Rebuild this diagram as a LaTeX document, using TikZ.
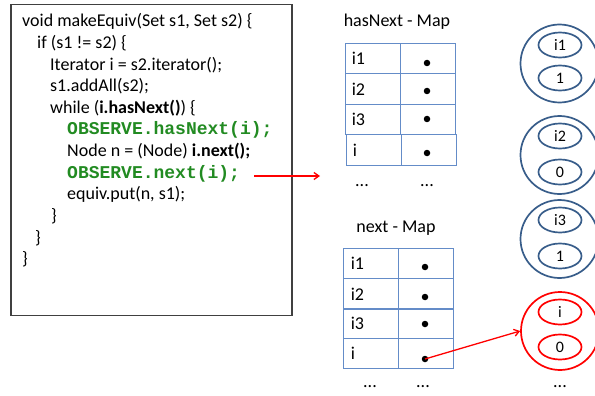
\documentclass[tikz,border=0pt]{standalone}
\usepackage{fontspec}
\setmainfont{Carlito}
\newfontfamily\codemono{Liberation Mono}
\usetikzlibrary{shapes.geometric,arrows.meta}

\definecolor{codegreen}{RGB}{34,139,34}
\definecolor{tableblue}{RGB}{100,140,200}
\definecolor{ringblue}{RGB}{56,93,138}
\definecolor{boxgray}{RGB}{64,64,64}

\tikzset{
  codeline/.style={anchor=base west, inner sep=0pt, font=\fontsize{18}{21.6}\selectfont},
  obsline/.style={anchor=base west, inner sep=0pt, text=codegreen, font=\fontsize{18}{21.6}\codemono\bfseries},
  maplabel/.style={inner sep=0pt, font=\fontsize{18}{21.6}\selectfont},
  cell/.style={draw=tableblue, line width=0.9pt, rectangle, inner sep=0pt, minimum height=30.5pt},
  keycell/.style={cell, minimum width=55pt},
  valcell/.style={cell, minimum width=55pt},
  celltext/.style={anchor=west, inner sep=0pt, font=\fontsize{18}{21.6}\selectfont},
  ptr/.style={circle, fill=black, inner sep=0pt, minimum size=6.5pt},
  etc/.style={inner sep=0pt, font=\fontsize{18}{21.6}\selectfont},
  ring/.style={circle, draw=ringblue, line width=1.7pt, minimum size=78pt, inner sep=0pt},
  part/.style={ellipse, draw=ringblue, line width=1.7pt, minimum width=43pt, minimum height=25pt, inner sep=0pt, font=\fontsize{16}{19}\selectfont},
  redring/.style={ring, draw=red},
  redpart/.style={part, draw=red},
  redarrow/.style={draw=red, line width=1.3pt, -{Straight Barb[length=5pt,width=7pt]}}
}

\begin{document}
\begin{tikzpicture}[x=1pt,y=-1pt]
\useasboundingbox (0,0) rectangle (595,396);

% source listing
\node[draw=boxgray, line width=1.1pt, rectangle, minimum width=281pt, minimum height=311pt, inner sep=0pt] (code) at (151.5,160) {};
\node[codeline] (l1)  at (22,27)    {void makeEquiv(Set s1, Set s2) \{};
\node[codeline] (l2)  at (37,48.6)  {if (s1 != s2) \{};
\node[codeline] (l3)  at (50,70.2)  {Iterator i = s2.iterator();};
\node[codeline] (l4)  at (50,91.8)  {s1.addAll(s2);};
\node[codeline] (l5)  at (50,113.4) {while (\textbf{i.hasNext()}) \{};
\node[obsline]  (l6)  at (67,135)   {OBSERVE.hasNext(i);};
\node[codeline] (l7)  at (67,156.6) {Node n = (Node) \textbf{i.next();}};
\node[obsline]  (l8)  at (67,178.2) {OBSERVE.next(i);};
\node[codeline] (l9)  at (67,199.8) {equiv.put(n, s1);};
\node[codeline] (l10) at (51,221.4) {\}};
\node[codeline] (l11) at (35,243)   {\}};
\node[codeline] (l12) at (22,264.6) {\}};

\coordinate (obsout) at (254,176);
\coordinate (mapin) at (320,176);
\draw[redarrow] (obsout) -- (mapin);

% hasNext map
\node[maplabel] (hlabel) at (397,22) {hasNext - Map};
\node[keycell] (hk1) at (372.5,58.5)  {};
\node[valcell] (hv1) at (427.5,58.5)  {};
\node[keycell] (hk2) at (372.5,89)    {};
\node[valcell] (hv2) at (427.5,89)    {};
\node[keycell] (hk3) at (372.5,119.5) {};
\node[valcell] (hv3) at (427.5,119.5) {};
\node[keycell] (hk4) at (373.5,150)   {};
\node[valcell] (hv4) at (428.5,150)   {};
\node[celltext] at ([xshift=7pt]hk1.west) {i1};
\node[celltext] at ([xshift=7pt]hk2.west) {i2};
\node[celltext] at ([xshift=7pt]hk3.west) {i3};
\node[celltext] at ([xshift=7pt]hk4.west) {i};
\node[ptr] (hd1) at (427,63)  {};
\node[ptr] (hd2) at (427,91)  {};
\node[ptr] (hd3) at (427,119) {};
\node[ptr] (hd4) at (427,153) {};
\node[etc] (hetc1) at (362,186) {...};
\node[etc] (hetc2) at (427,186) {...};

% next map
\node[maplabel] (nlabel) at (396,228) {next - Map};
\node[keycell] (nk1) at (370.5,263.5) {};
\node[valcell] (nv1) at (425.5,263.5) {};
\node[keycell] (nk2) at (370.5,294)   {};
\node[valcell] (nv2) at (425.5,294)   {};
\node[keycell] (nk3) at (370.5,323.5) {};
\node[valcell] (nv3) at (425.5,323.5) {};
\node[keycell] (nk4) at (370.5,353.5) {};
\node[valcell] (nv4) at (425.5,353.5) {};
\node[celltext] at ([xshift=8pt]nk1.west) {i1};
\node[celltext] at ([xshift=8pt]nk2.west) {i2};
\node[celltext] at ([xshift=8pt]nk3.west) {i3};
\node[celltext] at ([xshift=8pt]nk4.west) {i};
\node[ptr] (nd1) at (425,267) {};
\node[ptr] (nd2) at (425,297) {};
\node[ptr] (nd3) at (425,324) {};
\node[ptr] (nd4) at (425,359) {};
\node[etc] (netc1) at (370,387) {...};
\node[etc] (netc2) at (423,387) {...};

% value objects
\node[ring] (c1) at (559.5,63.5) {};
\node[part] (c1a) at (560,45)  {i1};
\node[part] (c1b) at (560,78)  {1};
\node[ring] (c2) at (559.5,155) {};
\node[part] (c2a) at (560,136) {i2};
\node[part] (c2b) at (560,172) {0};
\node[ring] (c3) at (559.5,239) {};
\node[part] (c3a) at (560,220) {i3};
\node[part] (c3b) at (560,256) {1};
\node[redring] (c4) at (560,331) {};
\node[redpart] (c4a) at (560,312) {i};
\node[redpart] (c4b) at (560,347) {0};
\node[etc] (cetc) at (560,387) {...};

\draw[redarrow] (nd4.center) -- (c4.west);
\end{tikzpicture}
\end{document}
